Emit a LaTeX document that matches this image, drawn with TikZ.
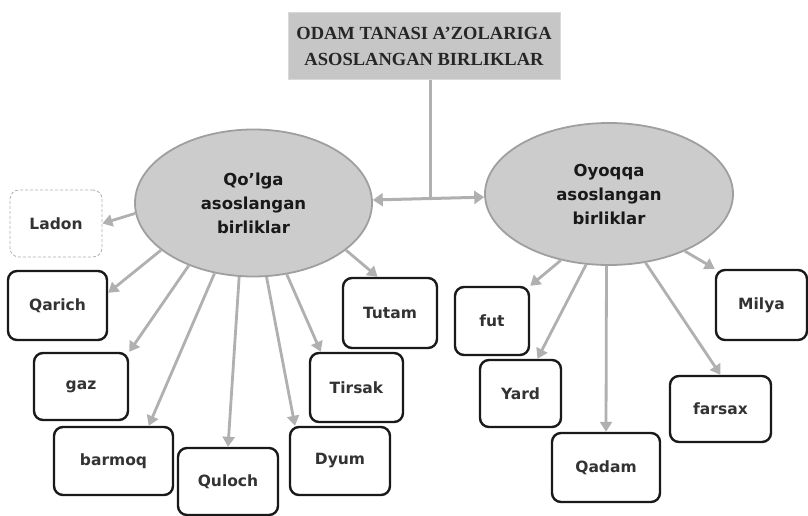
\documentclass[tikz,border=0pt]{standalone}
\usepackage{fontspec}
\newfontfamily\boxfont{DejaVu Sans}
\newfontfamily\titlefont{Liberation Serif}
\usetikzlibrary{arrows.meta,shapes.geometric}
\tikzset{
  titlebox/.style={rectangle,fill=gray!45,draw=gray!30,line width=0.6pt,inner sep=0pt,
    minimum width=272pt,minimum height=67pt,align=center,
    font=\titlefont\bfseries\fontsize{18.5}{26}\selectfont,text=black!85},
  bubble/.style={ellipse,fill=gray!40,draw=gray!75,line width=1.8pt,inner sep=0pt,align=center,
    font=\boxfont\bfseries\fontsize{16.5}{24}\selectfont,text=black!90},
  unitbox/.style={rectangle,rounded corners=9pt,draw=black!90,line width=2.4pt,fill=white,
    inner sep=0pt,font=\boxfont\bfseries\fontsize{15.5}{18}\selectfont,text=black!80},
  lightbox/.style={unitbox,draw=gray!60,line width=0.8pt,densely dashed},
  arr/.style={draw=gray!62,line width=2.8pt,-{Triangle[length=10pt,width=12pt]}},
  plainline/.style={draw=gray!62,line width=3pt},
  bothway/.style={draw=gray!62,line width=3pt,{Triangle[length=10pt,width=13pt]}-{Triangle[length=10pt,width=13pt]}}
}
\begin{document}
\begin{tikzpicture}[x=1pt,y=-1pt]
\useasboundingbox[fill=white] (0,0) rectangle (808,516);
% title
\node[titlebox] (title) at (424,46) {ODAM TANASI A’ZOLARIGA\\ASOSLANGAN BIRLIKLAR};
% ellipses
\node[bubble,minimum width=237pt,minimum height=147pt] (L) at (253.5,203) {Qo’lga\\asoslangan\\birliklar};
\node[bubble,minimum width=248pt,minimum height=142pt] (R) at (609,194) {Oyoqqa\\asoslangan\\birliklar};
\coordinate (j) at (430,198);
\draw[plainline] (j |- title.south) -- (j);
\draw[bothway] (L) -- (R);
% left boxes
\node[lightbox,minimum width=92pt,minimum height=67pt] (ladon) at (56,223.5) {Ladon};
\node[unitbox,minimum width=99pt,minimum height=69pt] (qarich) at (57.5,305.5) {Qarich};
\node[unitbox,minimum width=94pt,minimum height=67pt] (gaz) at (81,386.5) {gaz};
\node[unitbox,minimum width=119pt,minimum height=68pt] (barmoq) at (113.5,461) {barmoq};
\node[unitbox,minimum width=100pt,minimum height=67pt] (quloch) at (228,481.5) {Quloch};
\node[unitbox,minimum width=100pt,minimum height=68pt] (dyum) at (340,461) {Dyum};
\node[unitbox,minimum width=93pt,minimum height=69pt] (tirsak) at (356.5,387.5) {Tirsak};
\node[unitbox,minimum width=94pt,minimum height=70pt] (tutam) at (390,313) {Tutam};
% right boxes
\node[unitbox,minimum width=74pt,minimum height=68pt] (fut) at (492,321) {fut};
\node[unitbox,minimum width=81pt,minimum height=67pt] (yard) at (520.5,393.5) {Yard};
\node[unitbox,minimum width=108pt,minimum height=69pt] (qadam) at (606,467.5) {Qadam};
\node[unitbox,minimum width=101pt,minimum height=66pt] (farsax) at (720.5,409) {farsax};
\node[unitbox,minimum width=91pt,minimum height=70pt] (milya) at (761.5,305) {Milya};
% left arrows
\draw[arr] (L.185) -- (ladon.east);
\draw[arr] (L.207) -- (qarich.14);
\draw[arr] (L.224) -- (gaz.north east);
\draw[arr] (L.241) -- (barmoq.45);
\draw[arr] (L.259) -- (quloch.north);
\draw[arr] (L.280) -- (dyum.142);
\draw[arr] (L.295) -- (tirsak.135);
\draw[arr] (L.333) -- (tutam.109);
% right arrows
\draw[arr] (R.234) -- (fut.north east);
\draw[arr] (R.252) -- (yard.64);
\draw[arr] (R.268) -- (qadam.north);
\draw[arr] (R.298) -- (farsax.north);
\draw[arr] (R.323) -- (milya.north west);
\end{tikzpicture}
\end{document}
